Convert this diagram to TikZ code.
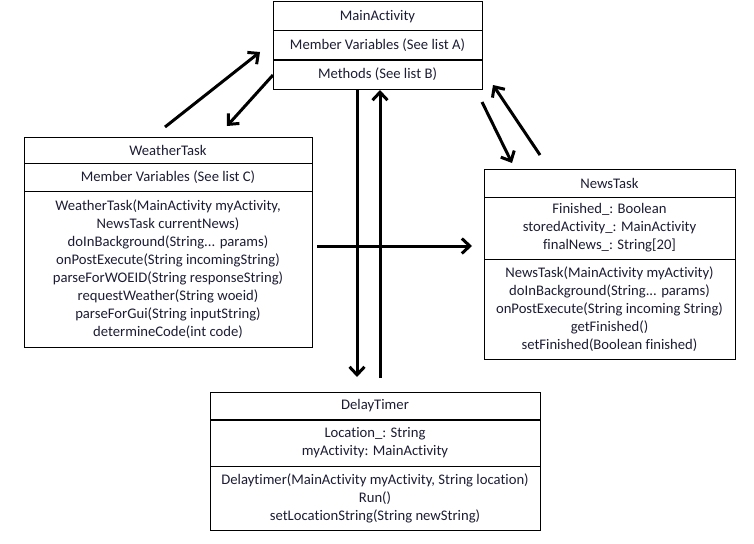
\documentclass[tikz,border=0pt]{standalone}
\usepackage{fontspec}
\setmainfont{Carlito}[Ligatures={NoCommon}]
\usetikzlibrary{positioning,arrows.meta}
\definecolor{inkcol}{RGB}{28,28,52}
\tikzset{
    row/.style={draw, line width=1pt, outer sep=0pt, inner sep=0pt, align=center,
        text=inkcol, font=\fontsize{14.67}{18}\selectfont},
    link/.style={line width=3pt, -{Straight Barb[length=8pt,width=15pt]}},
    heavy rule/.style={line width=2pt}
}
\begin{document}
\begin{tikzpicture}[x=1pt, y=-1pt]
            \useasboundingbox (0, 0) rectangle (754, 543);

            % MainActivity
            \node[row, minimum width=209pt, minimum height=29pt] (main-name) at (377.5, 16.5) {MainActivity};
            \node[row, minimum width=209pt, minimum height=29pt, below=0pt of main-name] (main-vars) {Member Variables (See list A)};
            \node[row, minimum width=209pt, minimum height=29pt, below=0pt of main-vars] (main-meth) {Methods (See list B)};
            \draw[heavy rule] (main-vars.south west) -- (main-vars.south east);

            % WeatherTask
            \node[row, minimum width=288pt, minimum height=26pt] (weather-name) at (168, 150) {WeatherTask};
            \node[row, minimum width=288pt, minimum height=28pt, below=0pt of weather-name] (weather-vars) {Member Variables (See list C)};
            \node[row, minimum width=288pt, minimum height=156pt, below=0pt of weather-vars] (weather-meth) {WeatherTask(MainActivity myActivity,\\ NewsTask currentNews)\\ doInBackground(String... params)\\ onPostExecute(String incomingString)\\ parseForWOEID(String responseString)\\ requestWeather(String woeid)\\ parseForGui(String inputString)\\ determineCode(int code)};

            % NewsTask
            \node[row, minimum width=251pt, minimum height=28pt] (news-name) at (609.5, 183) {NewsTask};
            \node[row, minimum width=251pt, minimum height=62pt, below=0pt of news-name] (news-vars) {Finished\_: Boolean\\ storedActivity\_: MainActivity\\ finalNews\_: String[20]};
            \node[row, minimum width=251pt, minimum height=100pt, below=0pt of news-vars] (news-meth) {NewsTask(MainActivity myActivity)\\ doInBackground(String... params)\\ onPostExecute(String incoming String)\\ getFinished()\\ setFinished(Boolean finished)};

            % DelayTimer
            \node[row, minimum width=330pt, minimum height=28pt] (delay-name) at (375, 406) {DelayTimer};
            \node[row, minimum width=330pt, minimum height=46pt, below=0pt of delay-name] (delay-vars) {Location\_: String\\ myActivity: MainActivity};
            \node[row, minimum width=330pt, minimum height=64pt, below=0pt of delay-vars] (delay-meth) {Delaytimer(MainActivity myActivity, String location)\\ Run()\\ setLocationString(String newString)};
            \draw[heavy rule] (delay-name.south west) -- (delay-name.south east);

            \coordinate (wm-a) at (165, 127);
            \coordinate (wm-b) at (260, 52);
            \coordinate (mw-a) at (273, 75);
            \coordinate (mw-b) at (227, 126);
            \coordinate (mn-a) at (482, 102);
            \coordinate (mn-b) at (512, 163);
            \coordinate (nm-a) at (540, 155);
            \coordinate (nm-b) at (493, 85);
            \coordinate (md-a) at (357, 90);
            \coordinate (md-b) at (357, 377);
            \coordinate (dm-a) at (380, 378);
            \coordinate (dm-b) at (380, 90);
            \coordinate (wn-a) at (317, 246);
            \coordinate (wn-b) at (472, 246);

            \draw[link] (wm-a) -- (wm-b);
            \draw[link] (mw-a) -- (mw-b);
            \draw[link] (mn-a) -- (mn-b);
            \draw[link] (nm-a) -- (nm-b);
            \draw[link] (md-a) -- (md-b);
            \draw[link] (dm-a) -- (dm-b);
            \draw[link] (wn-a) -- (wn-b);
        \end{tikzpicture}
\end{document}
